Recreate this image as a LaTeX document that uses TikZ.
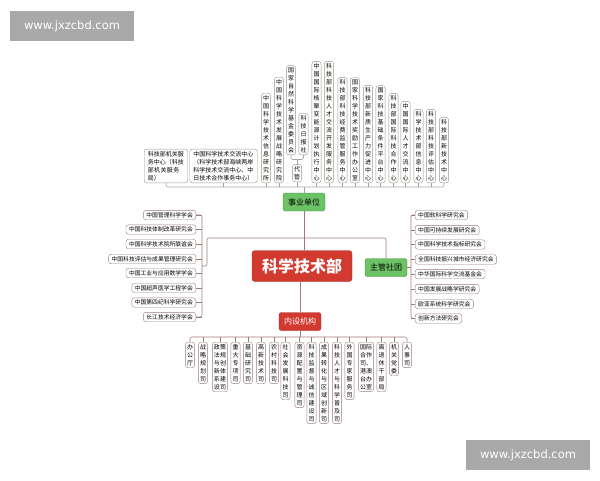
\documentclass[tikz,border=0pt]{standalone}
\usepackage{fontspec}
\setmainfont{Noto Sans CJK SC}
\newfontfamily\wmfont{DejaVu Sans}
\usepackage{tikz}
\usepackage{xcolor}

% let Chinese text break between characters
\XeTeXlinebreaklocale "zh"
\XeTeXlinebreakskip = 0pt plus 1pt

\definecolor{xgreen}{HTML}{6CC264}
\definecolor{xgreenD}{HTML}{3F8F3A}
\definecolor{xred}{HTML}{D23A2F}
\definecolor{xredD}{HTML}{A32A22}
\definecolor{edgeG}{HTML}{8E9C88}
\definecolor{edgeR}{HTML}{9C7C7A}
\definecolor{wire}{HTML}{A6A6A6}
\definecolor{wmgray}{HTML}{A9A9A9}

\begin{document}
\begin{tikzpicture}[x=1pt, y=-1pt,
    root/.style={draw=xredD, fill=xred, rounded corners=3pt, text=white,
        minimum width=100pt, minimum height=31pt, inner sep=1pt,
        font=\fontsize{16}{18}\selectfont\bfseries},
    branch/.style={draw=#1D, fill=#1, rounded corners=2.5pt,
        minimum width=42pt, minimum height=18pt, inner sep=1pt,
        font=\fontsize{8}{9}\selectfont},
    vtop/.style={draw=edgeG, fill=white, rounded corners=2.5pt, text width=6.2pt,
        align=center, inner xsep=1.5pt, inner ysep=2pt, font=\fontsize{6}{8}\selectfont},
    htop/.style={vtop, align=left, inner xsep=3.5pt},
    vbot/.style={vtop, draw=edgeR},
    gbox/.style={draw=edgeR, fill=white, rounded corners=2.5pt, inner xsep=3pt,
        inner ysep=2pt, font=\fontsize{5.8}{7}\selectfont},
    tlink/.style={draw=wire, line width=0.6pt},
    glink/.style={draw=edgeR, line width=0.6pt},
    wmbox/.style={fill=wmgray, text=white, minimum width=124pt, minimum height=30pt,
        font=\wmfont\fontsize{11.5}{13}\selectfont}
]
    % Fix the canvas
    \useasboundingbox (0,0) rectangle (600,480);

    % Watermarks
    \node[wmbox] (wm1) at (72,26) {www.jxzcbd.com};
    \node[wmbox] (wm2) at (528,455) {www.jxzcbd.com};

    % Centre topic and branches
    \node[root] (kxjs) at (302,266) {科学技术部};
    \node[branch=xgreen] (sydw) at (304,202) {事业单位};
    \node[branch=xgreen] (zgst) at (386,267.5) {主管社团};
    \node[branch=xred, text=white] (nsjg) at (300,321.5) {内设机构};

    % Top children
    \node[htop, text width=36.5pt, anchor=south] (fwzx) at (166,183)
        {科技部机关服务中心（科技部机关服务局）};
    \node[htop, text width=60.5pt, anchor=south] (jlzx) at (223.5,183)
        {中国科学技术交流中心（科学技术部海峡两岸科学技术交流中心、中日技术合作事务中心）};
    \foreach \x/\t [count=\i] in {266/中国科学技术信息研究所, 279/中国科学技术发展战略研究院,
        316.5/中国国际核聚变能源计划执行中心, 329/科技部科技人才交流开发服务中心,
        342.5/科技部科技经费监管服务中心, 355/国家科学技术奖励工作办公室,
        368/科技部新质生产力促进中心, 380.5/国家科技基础条件平台中心,
        393.5/科技部国际科技合作中心, 405.5/中国国际人才交流中心,
        418.5/科学技术部信息中心, 431/科技部科技评估中心, 444/科技部新技术中心}
        \node[vtop, anchor=south] (top\i) at (\x,183) {\t};
    \node[vtop, anchor=south] (dg) at (297,182) {代管};
    \node[vtop, anchor=south] (zrjj) at (291,155) {国家自然科学基金委员会};
    \node[vtop, anchor=south] (kjrb) at (303.5,155) {科技日报社};

    % Top connectors
    \coordinate (tbus) at (0,187);
    \coordinate (dgj) at (0,159.5);
    \draw[tlink, rounded corners=2pt] (fwzx.south) |- (sydw.north |- tbus) -| (top13.south);
    \draw[tlink] (sydw.north) -- (sydw.north |- tbus);
    \foreach \n in {jlzx, dg}
        \draw[tlink] (\n.south) -- (\n.south |- tbus);
    \foreach \i in {1,...,12}
        \draw[tlink] (top\i.south) -- (top\i.south |- tbus);
    \draw[tlink, rounded corners=1.5pt] (zrjj.south) |- (dg.north |- dgj) -| (kjrb.south);
    \draw[tlink] (dg.north) -- (dg.north |- dgj);

    % Left societies
    \foreach \t/\y [count=\i] in {中国管理科学学会/215, 中国科技体制改革研究会/229.5,
        中国科学技术院所联谊会/244, 中国科技评估与成果管理研究会/259,
        中国工业与应用数学学会/273, 中国超声医学工程学会/288,
        中国第四纪科学研究会/302.5, 长江技术经济学会/317}
        \node[gbox, anchor=east] (l\i) at (196,\y) {\t};

    % Right societies
    \foreach \t/\y [count=\i] in {中国软科学研究会/215, 中国可持续发展研究会/230,
        中国科学技术指标研究会/244.5, 全国科技振兴城市经济研究会/259.5,
        中华国际科学交流基金会/274, 中国发展战略学研究会/289,
        欧亚系统科学研究会/304, 创新方法研究会/318.5}
        \node[gbox, anchor=west] (r\i) at (415,\y) {\t};

    % Society brackets
    \coordinate (lbr) at (202,0);
    \coordinate (rbr) at (411,0);
    \coordinate (mbus) at (0,238);
    \foreach \i in {1,...,8} {
        \draw[glink] (l\i.east) -- (l\i.east -| lbr);
        \draw[glink] (r\i.west) -- (r\i.west -| rbr);
    }
    \draw[glink, rounded corners=2pt] (l1.east) -| (lbr |- l8.east) -- (l8.east);
    \draw[glink, rounded corners=2pt] (r1.west) -| (rbr |- r8.west) -- (r8.west);
    \draw[glink, rounded corners=2pt] (lbr |- kxjs) -- ++(5,0) |- (mbus -| zgst) -- (zgst.north);
    \draw[glink] (zgst.east) -- (zgst.east -| rbr);

    % Centre connectors
    \draw[glink] (sydw.south) -- (sydw.south |- kxjs.north);
    \draw[glink] (kxjs.south -| nsjg) -- (nsjg.north);

    % Bottom children
    \foreach \x/\w/\t [count=\i] in {190/6.2/办公厅, 203/6.2/战略规划司,
        220/12.2/政策法规与创新体系建设司, 235.5/6.2/重大专项司, 248/6.2/基础研究司,
        261/6.2/高新技术司, 274/6.2/农村科技司, 285.5/6.2/社会发展科技司,
        299.5/6.2/资源配置与管理司, 311.5/6.2/科技监督与诚信建设司,
        324/6.2/成果转化与区域创新司, 337/6.2/科技人才与科学普及司,
        349.5/6.2/外国专家服务司, 366/12.2/国际合作司、港澳台办公室,
        381.5/6.2/离退休干部局, 394/6.2/机关党委, 407/6.2/人事司}
        \node[vbot, text width=\w pt, anchor=north] (b\i) at (\x,342) {\t};

    % Bottom connectors
    \coordinate (bbus) at (0,337);
    \draw[glink, rounded corners=2pt] (b1.north) |- (nsjg.south |- bbus) -| (b17.north);
    \draw[glink] (nsjg.south) -- (nsjg.south |- bbus);
    \foreach \i in {2,...,16}
        \draw[glink] (b\i.north) -- (b\i.north |- bbus);
\end{tikzpicture}
\end{document}
